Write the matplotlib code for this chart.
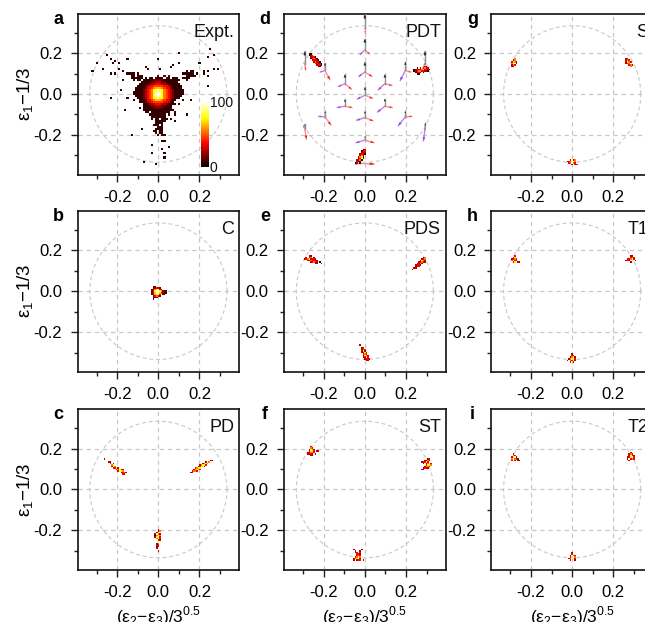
import numpy as np
import matplotlib
matplotlib.use('Agg')
import matplotlib.pyplot as plt
from matplotlib.ticker import MultipleLocator

plt.rcParams['font.family'] = ['Liberation Sans', 'DejaVu Sans']
plt.rcParams['axes.unicode_minus'] = False

W, H = 645, 622
panel_left = [77.5, 284, 491.3]
panel_top = [13.5, 210.7, 409]
panel_w, panel_h = 161.7, 161
lim = 0.393

levels = [.06, .15, .25, .36, .45, .55, .65, .75, .88, 1.0]

# every blob is (left bin, top bin, rows), a digit is a colour level, a space is empty
expt_blobs = [
    (-14, 9, ["              1  1 1",
              "        0 00 0000 00 000",
              "       0000011111" + "00000000",
              "      000001122211" + "000000",
              "     00000122333221" + "000000",
              "    00001233444443321" + "00000",
              "   000001334566654331" + "00000",
              "   0000123457787754321" + "00000",
              "  00000123457898754321" + "00000",
              "  00000123457999754321" + "00000",
              "   0000123457898754321" + "0000",
              "    000123457787754321" + "000",
              "     0001334566654331" + "00",
              "     0001233444443321" + "0",
              "       000122333221" + "0000",
              "       00001122211" + "000",
              "       0000011111" + "0000",
              "       000000000000000",
              "        00 000000000  0",
              "          00000000 0",
              "           0000000",
              "           0 00 000 0",
              "             00000",
              "             0000",
              "            000 0",
              "              000",
              "             0000",
              "            00 00",
              "             0 00",
              "              0 00"]),
    (-15, 10, ["0000 0", "  00 000", "  000000", "   0 00"]),
    (12, 11, ["  0 00", "000000 0", "  00000", "0000", "  0"]),
]
expt_x = [-25, -30, -22, -23, -21, -19, -15, -32, -27, -23, -21, -19, -17, -17, -18, -23, -15,
          -16, -12, -9, -8, -13, -3, -3, -7, -1, 3, 3, 5, 2, 3, 2, 0, 10, 25, 20, 24, 27, 7, 10,
          20, 29, 27, 24, 22, 22, 24, 24, 14, 8, 8, 10, 12, 16, 6, 1, -6, -5, 2]
expt_y = [19, 15, 15, 17, 16, 15, 17, 11, 12, 10, 10, 12, 11, 7, 2, -2, -2, -8, -3, -7, -17,
          -20, -25, -29, -33, -34, -31, -29, -26, -27, -23, -23, 17, 20, 22, 15, 18, 19, 14, 15,
          15, 12, 12, 11, 11, 10, 9, 4, -10, -10, -13, -5, -3, -3, 13, 12, 13, 12, -20]

c_blobs = [(-4, 3, [" 01", " 12331", "1257731", "1379975211", "1368964110",
                    "126773 10", " 13531", " 121", " 1"])]

pd_blobs = [
    (-35, 20, ["2", "", "   22", "    3 2", "     57", "     2 5", "      3372", "        35732",
               "         3775", "           2352", "            32"]),
    (21, 19, ["             22", "          2 5", "        2575", "      25773", "     23772",
              "   3577", "  25753", " 3553", "23"]),
    (-2, -26, ["  2", "  25", " 27", "2 52", "0575", "2773", " 593", "  32", "  7", " 25", " 23",
               " 22", " 2", "", "  2"]),
]
pdt_blobs = [
    (-36, 26, ["00", "023", " 2330", " 03530", "  23320", "   25320", "    33220", "     2330",
               "      00"]),
    (32, 18, ["       32", "  0 2 3532", "02323573330", "0235533220", " 0332 0", "  00"]),
    (-6, -36, ["     02", "    033", "    232", "   2330", "   352", "  2570", "  2372", " 2350",
               " 230", "02 0"]),
]
pds_blobs = [
    (-39, 23, ["   22", " 2 35 2", "23572332", "  2353332", "    23532 0", "       22  2"]),
    (31, 22, ["       25", "      235", "     3752", "    23532", "   2352", "  2332", "  233",
              " 22", "2"]),
    (-3, -35, ["2", "", " 23", " 253", " 272", " 2372", "  353", "  2752", "  2373", "   2332",
               "    22"]),
]
st_blobs = [
    (-38, 28, ["   3", "   53", "  2752", "  3773 22", " 23553", " 2332 2", "   22"]),
    (36, 20, ["     23", "   2353", " 23373", "  2 2573", "    3775", "   2553", "  2332", " 22"]),
    (-8, -39, [" 2    2", "  2  2", "  23 3", "   332", "   353", "  3575", " 25793", " 2 233 2"]),
]
s_blobs = [
    (-40, 23, ["   5", "  35", " 3752", " 5792", " 253", " 22"]),
    (35, 23, ["22", "353", "2753", "2359", "  352", "   5"]),
    (-3, -43, ["  3 25", "235795", " 35953", "   2 33"]),
]
t1_blobs = [
    (-40, 23, ["   3", "  37", " 2353", " 5933", "  37 22"]),
    (35, 23, ["   22", "   353", " 23573", "233 792", "   2"]),
    (-3, -41, ["   2", "   32", "  2572", " 25773", "2 5392", "  3 2"]),
]
t2_blobs = [
    (-40, 23, ["  2", "  53", " 3792", " 59532", " 3 3 22"]),
    (35, 24, ["   2", "  253", "  3732", " 23793", " 2 353", "  2"]),
    (-2, -41, ["  2", "  3", " 3 53", " 3795", "25993", " 2  2"]),
]

# PDT little stars: base, tip of the up arm, the purple arm and the pink arm
star_x = [0, 0, 0, -.097, .097, 0, -.194, .197, -.292, .292, -.097, .097, 0, -.194, .197, -.292, .292, 0, -.026]
star_y = [.32, .215, .107, .05, .05, -.006, .115, .115, .147, .147, -.06, -.06, -.115, -.112, -.112, -.169, -.173, -.225, -.339]
up_x = [0, 0, 0, -.097, .097, 0, -.194, .197, -.292, .292, -.097, .097, 0, -.194, .197, -.292, .295, 0, -.026]
up_y = [.39, .27, .156, .096, .096, .034, .152, .157, .209, .209, -.026, -.023, -.084, -.084, -.084, -.147, -.143, -.206, -.323]
purple_x = [0, -.023, -.029, -.128, .066, -.036, -.217, .172, -.292, .282, -.133, .062, -.039, -.224, .163, -.298, .285, -.042, -.045]
purple_y = [.32, .193, .086, .037, .021, -.024, .107, .066, .147, .123, -.066, -.088, -.128, -.109, -.154, -.157, -.228, -.238, -.342]
pink_x = [0, .023, .034, -.066, .131, .037, -.17, .222, -.288, .288, -.063, .133, .039, -.165, .228, -.284, .292, .044, .045]
pink_y = [.30, .196, .086, .024, .042, -.021, .07, .107, .118, .147, -.066, -.066, -.131, -.151, -.109, -.22, -.169, -.238, -.342]

panels = [
    ('a', 'Expt.', 0, 0, expt_blobs, .01),
    ('b', 'C', 0, 1, c_blobs, .0075),
    ('c', 'PD', 0, 2, pd_blobs, .0075),
    ('d', 'PDT', 1, 0, pdt_blobs, .0075),
    ('e', 'PDS', 1, 1, pds_blobs, .0075),
    ('f', 'ST', 1, 2, st_blobs, .0075),
    ('g', 'S', 2, 0, s_blobs, .0075),
    ('h', 'T1', 2, 1, t1_blobs, .0075),
    ('i', 'T2', 2, 2, t2_blobs, .0075),
]


def make_grid(blobs, step, extra_x=(), extra_y=()):
    n = int(round(lim / step)) + 1
    grid = np.full((2 * n + 1, 2 * n + 1), np.nan)
    for x0, y0, rows in blobs:
        for i, row in enumerate(rows):
            for j, ch in enumerate(row):
                if ch != ' ':
                    grid[y0 - i + n, x0 + j + n] = levels[int(ch)]
    for bx, by in zip(extra_x, extra_y):
        grid[by + n, bx + n] = levels[0]
    edges = (np.arange(2 * n + 2) - n - 0.5) * step
    return edges, np.ma.masked_invalid(grid)


fig = plt.figure(figsize=(W / 100, H / 100), dpi=100)

for letter, name, col, row, blobs, step in panels:
    ax = fig.add_axes([panel_left[col] / W, 1 - (panel_top[row] + panel_h) / H,
                       panel_w / W, panel_h / H])
    ax.set_xlim(-lim, lim)
    ax.set_ylim(-lim, lim)
    ax.set_axisbelow(True)
    ax.grid(True, color='#c8c8c8', linestyle=(0, (3.5, 3)), linewidth=0.9)
    t = np.linspace(0, 2 * np.pi, 200)
    ax.plot(np.cos(t) / 3, np.sin(t) / 3, color='#c8c8c8', linestyle=(0, (3.5, 2.5)), linewidth=0.8)

    if letter == 'a':
        edges, grid = make_grid(blobs, step, expt_x, expt_y)
    else:
        edges, grid = make_grid(blobs, step)
    ax.pcolormesh(edges, edges, grid, cmap='hot', vmin=0, vmax=1, zorder=3)

    ax.set_xticks([-.2, 0, .2])
    ax.set_yticks([-.2, 0, .2])
    ax.set_xticklabels(['-0.2', '0.0', '0.2'])
    ax.set_yticklabels(['-0.2', '0.0', '0.2'])
    ax.xaxis.set_minor_locator(MultipleLocator(.1))
    ax.yaxis.set_minor_locator(MultipleLocator(.1))
    ax.tick_params(which='major', length=5, width=1, labelsize=12, pad=6, color='#222222')
    ax.tick_params(which='minor', length=3, width=1, color='#222222')
    for s in ax.spines.values():
        s.set_linewidth(1.2)
        s.set_color('#111111')

    ax.annotate(name, xy=(1, 1), xycoords='axes fraction', xytext=(-3.4, -16.6),
                textcoords='offset points', ha='right', va='baseline', fontsize=13, color='#111111')
    fig.text((panel_left[col] - 19) / W, 1 - (panel_top[row] + 10) / H, letter,
             fontsize=13, fontweight='bold', ha='center', va='baseline')

    if col == 0:
        ax.set_ylabel('ε$_{\\mathregular{1}}$−1/3', fontsize=13.5, labelpad=-2)
    if row == 2:
        ax.set_xlabel('(ε$_{\\mathregular{2}}$−ε$_{\\mathregular{3}}$)/3$^{\\mathregular{0.5}}$',
                      fontsize=12.5, labelpad=3)

    if letter == 'd':
        sx, sy = np.array(star_x), np.array(star_y)
        arms = [(purple_x, purple_y, '#c080f0', '#a040d8', 2.5),
                (pink_x, pink_y, '#ff9090', '#e82020', 2.6),
                (up_x, up_y, '#909090', '#222222', 2.7)]
        for tx, ty, shaft, tip, z in arms:
            dx, dy = np.array(tx) - sx, np.array(ty) - sy
            # pale shaft first, then the last third of the arm in the dark colour with its head
            ax.plot([sx, sx + dx], [sy, sy + dy], color=shaft, linewidth=1, zorder=z)
            ax.quiver(sx + .65 * dx, sy + .65 * dy, .35 * dx, .35 * dy, angles='xy', scale_units='xy',
                      scale=1, color=tip, width=0.007, headwidth=2.5, headlength=3.2,
                      headaxislength=3, zorder=z + .05)

    if letter == 'a':
        cax = fig.add_axes([201 / W, 1 - 167 / H, 8 / W, 65.3 / H])
        cax.imshow(np.linspace(1, 0, 100).reshape(-1, 1), cmap='hot', aspect='auto', vmin=0, vmax=1)
        cax.axis('off')
        fig.text(210 / W, 1 - 107 / H, '100', fontsize=10, ha='left', va='baseline', color='#111111')
        fig.text(209.5 / W, 1 - 171.5 / H, '0', fontsize=10, ha='left', va='baseline', color='#111111')

fig.savefig('out.png', dpi=100)
